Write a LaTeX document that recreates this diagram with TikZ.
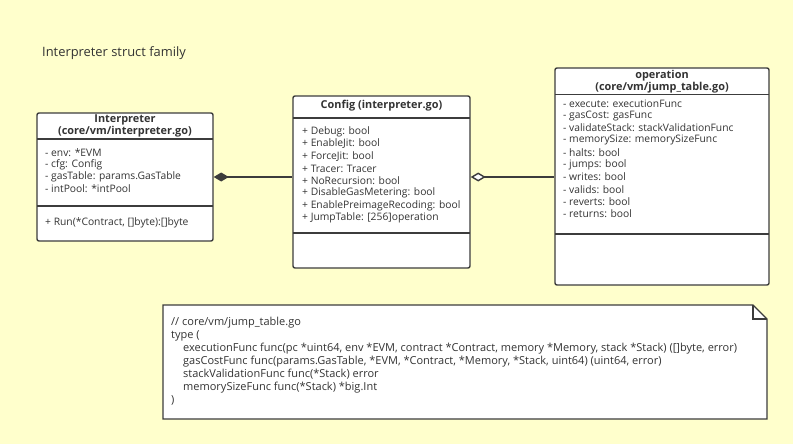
\documentclass[tikz,border=0pt]{standalone}
\usepackage{fontspec}
\setmainfont{Open Sans}
\usetikzlibrary{arrows.meta}
\definecolor{bgyellow}{HTML}{FFFFCC}
\definecolor{umlgray}{HTML}{3C3C3C}
\definecolor{txtgray}{HTML}{333333}
\tikzset{
  umlbox/.style={draw=umlgray, line width=1.4pt, fill=white, rounded corners=2pt, inner sep=0pt},
  umlsep/.style={draw=umlgray, line width=1.4pt},
  conn/.style={draw=umlgray, line width=1.4pt},
  header/.style={font=\fontsize{10.9}{12}\selectfont\bfseries, text=txtgray, align=center},
  attr/.style={font=\fontsize{10.3}{12}\selectfont, text=txtgray, anchor=west, inner sep=0pt},
}
\begin{document}
\begin{tikzpicture}[x=1pt,y=-1pt]
\fill[bgyellow] (0,0) rectangle (793,444);
\useasboundingbox (0,0) rectangle (793,444);
\node[attr, font=\fontsize{12.9}{15}\selectfont] (title) at (42,53) {Interpreter struct family};

\node[umlbox, minimum width=176pt, minimum height=128pt] (interp) at (125,177) {};
\draw[umlsep] (37,139) -- (213,139) (37,206) -- (213,206);
\node[header] (interphead) at (125,126) {Interpreter\\(core/vm/interpreter.go)};
\foreach \t [count=\i] in {- env: *EVM, - cfg: Config, - gasTable: params.GasTable, - intPool: *intPool}
  \node[attr] (interpattr\i) at (45,141+12*\i) {\t};
\node[attr] (interprun) at (45,223) {+ Run(*Contract, []byte):[]byte};

\node[umlbox, minimum width=177pt, minimum height=172pt] (config) at (381.5,182) {};
\draw[umlsep] (293,118) -- (470,118) (293,233) -- (470,233);
\node[header] (confighead) at (381.5,106) {Config (interpreter.go)};
\foreach \t [count=\i] in {+ Debug: bool, + EnableJit: bool, + ForceJit: bool, + Tracer: Tracer, + NoRecursion: bool, + DisableGasMetering: bool, + EnablePreimageRecoding: bool, + JumpTable: [256]operation}
  \node[attr] (configattr\i) at (302,119.4+12.3*\i) {\t};

\node[umlbox, minimum width=214pt, minimum height=217pt] (oper) at (662,176.5) {};
\draw[umlsep] (555,94.3) -- (769,94.3) (555,234) -- (769,234);
\node[header] (operhead) at (662,82) {operation\\(core/vm/jump\_table.go)};
\foreach \t [count=\i] in {- execute: executionFunc, - gasCost: gasFunc, - validateStack: stackValidationFunc, - memorySize: memorySizeFunc, - halts: bool, - jumps: bool, - writes: bool, - valids: bool, - reverts: bool, - returns: bool}
  \node[attr] (operattr\i) at (563,91+12.3*\i) {\t};

\draw[conn, {Diamond[length=15pt,width=9pt]}-] (interp.east) -- (interp.east -| config.west);
\draw[conn, {Diamond[open,length=15pt,width=9pt,fill=white]}-] (config.east |- interp.east) -- (oper.west |- interp.east);

\draw[umlsep, fill=white] (163,305) -- (753,305) -- (767,319) -- (767,419) -- (163,419) -- cycle;
\draw[umlsep] (753,305) -- (753,319) -- (767,319);
\node[attr, font=\fontsize{11}{13.05}\selectfont, align=left] (jumpnote) at (171,361) {// core/vm/jump\_table.go\\type (\\
\hspace*{12pt}executionFunc func(pc *uint64, env *EVM, contract *Contract, memory *Memory, stack *Stack) ([]byte, error)\\
\hspace*{12pt}gasCostFunc func(params.GasTable, *EVM, *Contract, *Memory, *Stack, uint64) (uint64, error)\\
\hspace*{12pt}stackValidationFunc func(*Stack) error\\
\hspace*{12pt}memorySizeFunc func(*Stack) *big.Int\\
)};
\end{tikzpicture}
\end{document}
